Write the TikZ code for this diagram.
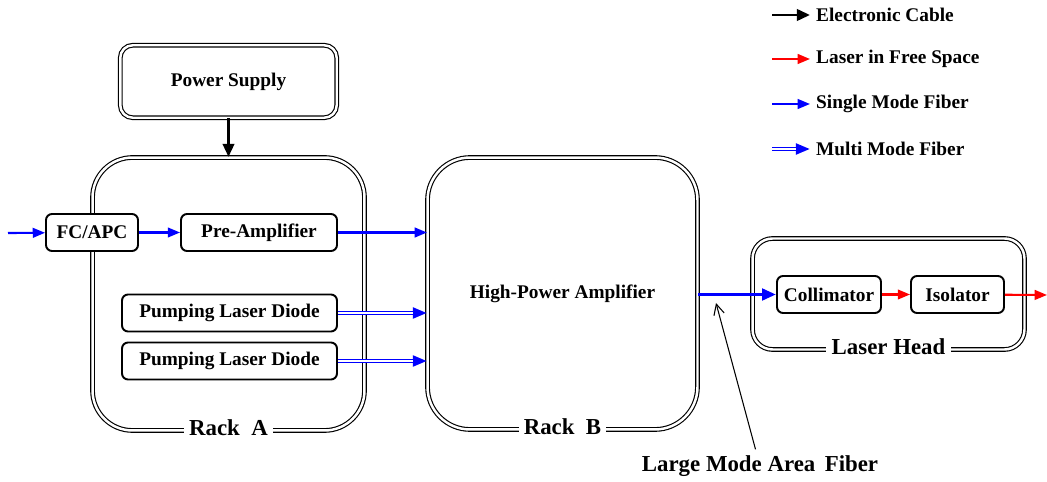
\documentclass[tikz,border=0pt]{standalone}
\usepackage{fontspec}
\setmainfont{Liberation Serif}
\usetikzlibrary{arrows.meta}

\tikzset{
  dbox/.style={draw, double, double distance=1.4pt, line width=0.65pt, fill=white, align=center, inner sep=0pt},
  box/.style={draw, line width=1.1pt, fill=white, rounded corners=0.12cm, minimum height=0.74cm, inner sep=0pt},
  rlabel/.style={fill=white, font=\fontsize{13}{15}\selectfont\bfseries, inner sep=3pt},
  smf/.style={blue, line width=1.2pt, -{Triangle[length=7pt,width=5.5pt]}},
  fsp/.style={red, line width=1.2pt, -{Triangle[length=7pt,width=5.5pt]}},
  ecab/.style={black, line width=1.6pt, -{Triangle[length=7.5pt,width=6.5pt]}},
  mmf/.style={blue, line width=1.8pt, -{Triangle[length=8pt,width=6pt]},
    postaction={draw=white, line width=0.6pt, shorten >=8pt, -}},
  lmaf/.style={blue, line width=2pt, -{Triangle[length=8pt,width=6.5pt]}},
}

\begin{document}
\begin{tikzpicture}[x=0.02cm, y=-0.02cm, font=\fontsize{11}{13}\selectfont\bfseries]
\useasboundingbox (0,0) rectangle (1047,482);

% racks and laser head
\node[dbox, rounded corners=0.8cm, minimum width=5.44cm, minimum height=5.46cm] (RA) at (228.5,294) {};
\node[dbox, rounded corners=0.85cm, minimum width=5.4cm, minimum height=5.44cm] (RB) at (562.5,293.5) {High-Power Amplifier};
\node[dbox, rounded corners=0.4cm, minimum width=5.44cm, minimum height=2.22cm] (LH) at (888.5,294) {};
\node[dbox, rounded corners=0.25cm, minimum width=4.33cm, minimum height=1.45cm] (PS) at (228.5,81.5) {Power Supply};

\node[rlabel] (RAl) at ([yshift=2pt]RA.south) {Rack~~A};
\node[rlabel] (RBl) at ([yshift=2pt]RB.south) {Rack~~B};
\node[rlabel] (LHl) at ([yshift=2pt]LH.south) {Laser~Head};

% components
\node[box, minimum width=1.84cm] (FC) at (92,232.5) {FC/APC};
\node[box, minimum width=3.12cm] (PA) at (259,232.5) {Pre-Amplifier};
\node[box, minimum width=4.3cm] (PD1) at (229.5,313) {Pumping Laser Diode};
\node[box, minimum width=4.3cm] (PD2) at (229.5,361) {Pumping Laser Diode};
\node[box, minimum width=2.08cm] (CO) at (829,294.5) {Collimator};
\node[box, minimum width=1.86cm] (IS) at (957.5,294.5) {Isolator};

\coordinate (IN) at (8,233);
\coordinate (BE) at (1047,295);
\coordinate (FP) at (716,303);
\node[font=\fontsize{13}{15}\selectfont\bfseries] (LMA) at (760,466) {Large Mode Area\,\ Fiber};

% connections
\draw[ecab] (PS) -- (RA);
\draw[smf] (IN) -- (FC);
\draw[smf] (FC) -- (PA);
\draw[smf] (PA) -- (PA -| RB.west);
\draw[mmf] (PD1) -- (PD1 -| RB.west);
\draw[mmf] (PD2) -- (PD2 -| RB.west);
\draw[lmaf] (CO -| RB.east) -- (CO);
\draw[fsp] (CO) -- (IS);
\draw[fsp] (IS) -- (BE);
\draw[line width=0.6pt, -{Straight Barb[length=6pt,width=6pt]}] (LMA) -- (FP);

% legend
\coordinate (L1) at (772,15);
\coordinate (L2) at (772,59);
\coordinate (L3) at (772,104);
\coordinate (L4) at (772,149);
\node[anchor=west] (T1) at (810,15) {Electronic Cable};
\node[anchor=west] (T2) at (810,59) {Laser in Free Space};
\node[anchor=west] (T3) at (810,104) {Single Mode Fiber};
\node[anchor=west] (T4) at (810,149) {Multi Mode Fiber};
\draw[ecab] (L1) -- (T1);
\draw[fsp] (L2) -- (T2);
\draw[smf] (L3) -- (T3);
\draw[mmf] (L4) -- (T4);
\end{tikzpicture}
\end{document}
